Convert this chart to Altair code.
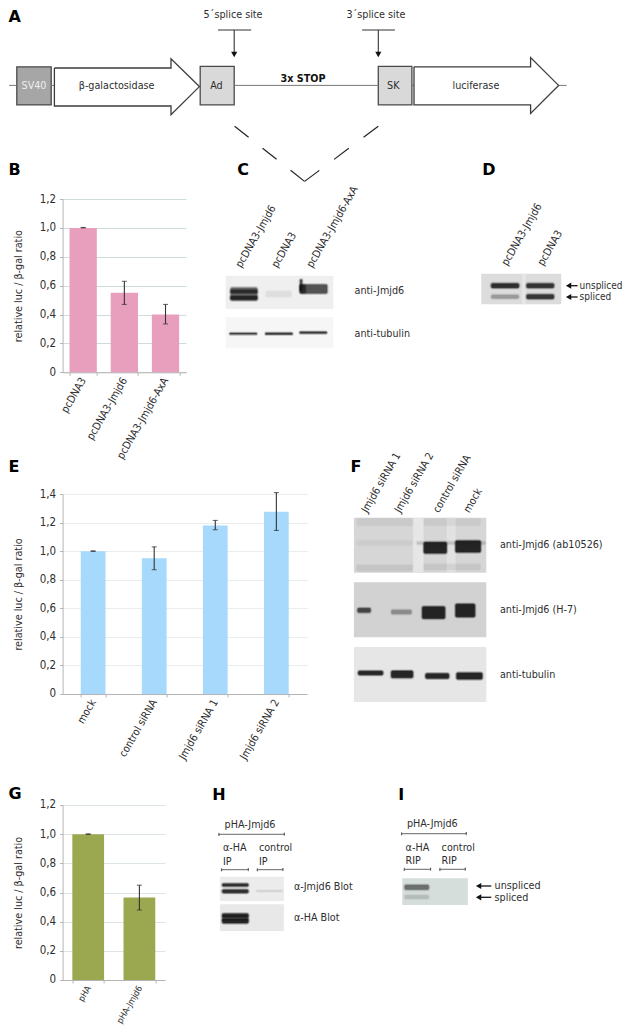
import altair as alt
import pandas as pd

# ---------- bar chart values ----------
B_CATS = ["pcDNA3", "pcDNA3-Jmjd6", "pcDNA3-Jmjd6-AxA"]
B_VALS = [1.0, 0.55, 0.40]
B_LOW = [1.0, 0.47, 0.335]
B_HIGH = [1.003, 0.63, 0.47]

E_CATS = ["mock", "control siRNA", "Jmjd6 siRNA 1", "Jmjd6 siRNA 2"]
E_VALS = [1.0, 0.95, 1.18, 1.275]
E_LOW = [0.998, 0.87, 1.15, 1.145]
E_HIGH = [1.002, 1.03, 1.215, 1.41]

G_CATS = ["pHA", "pHA-Jmjd6"]
G_VALS = [1.0, 0.565]
G_LOW = [0.998, 0.48]
G_HIGH = [1.002, 0.65]

FONT = "DejaVu Sans Condensed, Noto Sans, sans-serif"
TXT = "#2e2e2e"
FS = 10.7
YTITLE = "relative luc / β-gal ratio"

# ---------- schematic tables (page pixels) ----------
LETTERS = [("A", 8, 22), ("B", 8, 175), ("C", 236.7, 175), ("D", 481.7, 175),
           ("E", 8, 471.7), ("F", 350, 471.7), ("G", 8, 799), ("H", 211.7, 800), ("I", 397.7, 800)]

LABELS_LEFT = [
    ("anti-Jmjd6", 354, 290.7), ("anti-tubulin", 354, 333.7),
    ("anti-Jmjd6 (ab10526)", 499.3, 545.3), ("anti-Jmjd6 (H-7)", 499.3, 610.3), ("anti-tubulin", 499.3, 675),
    ("pHA-Jmjd6", 224, 825), ("α-HA", 222.3, 848.3), ("IP", 222.3, 861.7),
    ("control", 258.3, 848.3), ("IP", 258.3, 861.7),
    ("α-Jmjd6 Blot", 293.3, 886.7), ("α-HA Blot", 293.3, 918.3),
    ("pHA-Jmjd6", 406.3, 824), ("α-HA", 405, 848.3), ("RIP", 405, 860.7),
    ("control", 441, 848.3), ("RIP", 441, 860.7),
    ("unspliced", 494, 886), ("spliced", 494, 897.8),
]
LABELS_D = [("unspliced", 579, 285.5), ("spliced", 579, 297)]
LABELS_CENTER = [
    ("5´splice site", 232.4, 15.4), ("3´splice site", 375.3, 15.4),
    ("β-galactosidase", 116, 85.5), ("Ad", 215.8, 85.5), ("SK", 392.7, 85.5), ("luciferase", 475.3, 85.5),
]
SV40 = [("SV40", 33.4, 85.5)]
STOP = [("3x STOP", 302.4, 79)]
LABELS_ROT = [
    ("pcDNA3-Jmjd6", 238, 267), ("pcDNA3", 274, 267), ("pcDNA3-Jmjd6-AxA", 309, 267),
    ("pcDNA3-Jmjd6", 504, 265), ("pcDNA3", 540, 265),
    ("Jmjd6 siRNA 1", 364, 512), ("Jmjd6 siRNA 2", 397, 512), ("control siRNA", 435.5, 512), ("mock", 466, 512),
]

# x1, x2, y1, y2, fill, stroke
BOXES = [
    (16.2, 50.6, 66.8, 104.9, "#a6a6a6", "#4a4a4a"),
    (199.6, 233.6, 66.4, 104.9, "#d9d9d9", "#4a4a4a"),
    (377.7, 411.3, 66.4, 104.9, "#d9d9d9", "#4a4a4a"),
]
# blot backgrounds: x1, x2, y1, y2, fill
BLOTS = [
    (225, 332.7, 275.7, 309, "#efefef"), (225, 332.7, 317.3, 348.3, "#f6f6f6"),
    (480.7, 560.7, 273.7, 304.3, "#dcdcdc"), (521.5, 525, 273.7, 304.3, "#e6e6e6"),
    (353.3, 485.7, 517.7, 572.7, "#d6d6d6"), (412.5, 423, 517.7, 572.7, "#e6e6e6"), (446, 455, 517.7, 572.7, "#e2e2e2"),
    (353.3, 485.7, 582.3, 637.3, "#d2d2d2"), (353.3, 485.7, 647, 702, "#e6e6e6"),
    (219.3, 283.3, 876.7, 901, "#ececec"), (219.3, 283.3, 904.3, 931, "#e8e8e8"),
    (401.7, 467.3, 878.3, 905, "#d6dedc"),
]
# gel bands: x1, x2, y centre, height, darkness
BANDS = [
    (230, 256.7, 294, 13, 0.45), (230, 256.7, 291.5, 3.5, 0.6), (230, 256.7, 297.8, 3.5, 0.75),
    (299.3, 326.7, 289, 9, 0.6), (299.3, 305, 289, 8, 0.5),
    (299.5, 301.5, 285, 11, 0.7), (265, 291, 294, 6, 0.04),
    (229.3, 256, 333.7, 1.2, 0.85), (265, 291.7, 333.7, 1.5, 0.9), (299.3, 326, 332.6, 1.5, 0.9),
    (490.7, 518.3, 285.7, 4.5, 0.85), (526, 553.3, 285.7, 4.5, 0.8),
    (490.7, 518.3, 296.7, 4, 0.22), (526, 553.3, 296.7, 4.5, 0.8),
    (356, 412, 522, 8, 0.03), (356, 412, 568, 6, 0.05), (356, 412, 543, 5, 0.025),
    (423, 480, 567, 6, 0.04), (423, 480, 522, 7, 0.03),
    (423.3, 446, 547.8, 11, 0.97), (455, 480, 546.5, 11.5, 0.97), (416, 485, 543, 3, 0.1),
    (357, 370, 610.3, 4.5, 0.65), (390.7, 411, 612, 4.5, 0.25),
    (421.7, 444.3, 612.6, 12, 0.98), (455, 474.3, 610.5, 13, 0.98),
    (357.7, 382.3, 673, 4, 0.95), (390.7, 412.3, 674.3, 7, 0.97),
    (425, 448.3, 676, 5, 0.95), (456, 481.7, 676, 6.5, 0.97),
    (221.7, 247.7, 885, 2.8, 0.85), (221.7, 247.7, 891.3, 3.4, 0.85), (256, 282, 891, 1.5, 0.08),
    (221.7, 247.7, 915.5, 3.8, 0.9), (221.7, 247.7, 921, 4.5, 0.95), (221.7, 247.7, 918, 5, 0.4),
    (404, 428.3, 887.3, 5, 0.42), (404, 428.3, 897, 4, 0.1),
]
# polylines: id, width, colour, points
LINES = [
    ("back1", 1.0, "#777777", [(8.5, 85.4), (16, 85.4)]),
    ("back2", 1.0, "#777777", [(50.6, 85.4), (54, 85.4)]),
    ("back3", 1.0, "#777777", [(233.6, 85.4), (377.7, 85.4)]),
    ("back4", 1.0, "#777777", [(411.3, 85.4), (413.4, 85.4)]),
    ("back5", 1.0, "#777777", [(558, 85.4), (566, 85.4)]),
    ("gal", 1.3, "#3c3c3c", [(53.8, 68), (170.4, 68), (170.4, 58.7), (198.8, 86.6), (170.4, 114.6), (170.4, 106), (53.8, 106), (53.8, 68)]),
    ("luc", 1.3, "#3c3c3c", [(413.4, 66.8), (530, 66.8), (530, 57.5), (558, 85.4), (530, 113.4), (530, 104.9), (413.4, 104.9), (413.4, 66.8)]),
    ("t5h", 1.1, "#333333", [(217.4, 30), (250.6, 30)]),
    ("t5v", 1.1, "#333333", [(233.6, 30), (233.6, 54)]),
    ("t3h", 1.1, "#333333", [(361.5, 30), (394.3, 30)]),
    ("t3v", 1.1, "#333333", [(377.7, 30), (377.7, 54)]),
    ("d1", 1.3, "#111111", [(568, 285.7), (577, 285.7)]),
    ("d2", 1.3, "#111111", [(568, 297), (577, 297)]),
    ("i1", 1.3, "#111111", [(478, 886), (490.7, 886)]),
    ("i2", 1.3, "#111111", [(478, 897.3), (490.7, 897.3)]),
]
for name, a, b, y in [("h1", 218.3, 283.7, 834.3), ("h2", 221, 247.7, 869.7), ("h3", 256.7, 282.3, 869.7),
                      ("i3", 401, 465.7, 833.7), ("i4", 403.7, 430, 869.3), ("i5", 439.3, 464.7, 869.3)]:
    LINES.append((name, 0.9, "#555555", [(a, y - 1.5), (a, y + 1.5), (a, y), (b, y), (b, y - 1.5), (b, y + 1.5)]))

DASHED_L = [(234, 126.3), (304, 181.4)]
DASHED_R = [(377.7, 126.3), (304, 181.4)]
HEADS = [
    (233.6, 54.5, "triangle-down"), (377.7, 54.5, "triangle-down"),
    (568, 285.7, "triangle-left"), (568, 297, "triangle-left"),
    (478, 886, "triangle-left"), (478, 897.3, "triangle-left"),
]

# ---------- canvas view ----------
CANVAS_W, CANVAS_H = 1, 191
X = alt.X("x:Q", scale=alt.Scale(domain=[8, 8 + CANVAS_W], nice=False, zero=False), axis=None)
Y = alt.Y("y:Q", scale=alt.Scale(domain=[8 + CANVAS_H, 8], nice=False, zero=False), axis=None)
X2, Y2 = alt.X2("x2:Q"), alt.Y2("y2:Q")


def text_layer(rows, **mark):
    df = pd.DataFrame(rows, columns=["t", "x", "y"])
    return alt.Chart(df).mark_text(font=FONT, **mark).encode(x=X, y=Y, text="t:N")


blot_df = pd.DataFrame(BLOTS, columns=["x", "x2", "y", "y2", "fill"])
box_df = pd.DataFrame(BOXES, columns=["x", "x2", "y", "y2", "fill", "line"])
layers = [
    alt.Chart(blot_df).mark_rect().encode(x=X, x2=X2, y=Y, y2=Y2, color=alt.Color("fill:N", scale=None)),
]
# each band is built from nested soft rectangles so its edges fade as on a gel
for extra, share, radius in [(1.6, 0.16, 3), (0.9, 0.3, 2.5), (0.3, 0.5, 2), (-0.3, 0.7, 1.5)]:
    rows = [(a - extra, b + extra, y - max(h / 2 + extra, 0.4), y + max(h / 2 + extra, 0.4), d * share)
            for a, b, y, h, d in BANDS]
    df = pd.DataFrame(rows, columns=["x", "x2", "y", "y2", "o"])
    layers.append(alt.Chart(df).mark_rect(color="#111111", cornerRadius=radius).encode(
        x=X, x2=X2, y=Y, y2=Y2, opacity=alt.Opacity("o:Q", scale=None)))

layers.append(alt.Chart(box_df).mark_rect(strokeWidth=1.3).encode(
    x=X, x2=X2, y=Y, y2=Y2,
    color=alt.Color("fill:N", scale=None), stroke=alt.Stroke("line:N", scale=None)))

line_rows = []
for name, w, col, pts in LINES:
    for i, (px, py) in enumerate(pts):
        line_rows.append((name, w, col, i, px, py))
line_df = pd.DataFrame(line_rows, columns=["id", "w", "c", "i", "x", "y"])
layers.append(alt.Chart(line_df).mark_line().encode(
    x=X, y=Y, detail="id:N", order="i:Q",
    color=alt.Color("c:N", scale=None), strokeWidth=alt.StrokeWidth("w:Q", scale=None)))

for pts, dash in [(DASHED_L, 17.8), (DASHED_R, 18.4)]:
    dash_df = pd.DataFrame([(i, px, py) for i, (px, py) in enumerate(pts)], columns=["i", "x", "y"])
    layers.append(alt.Chart(dash_df).mark_line(color="#222222", strokeWidth=1.2, strokeDash=[dash, dash]).encode(
        x=X, y=Y, order="i:Q"))

head_df = pd.DataFrame(HEADS, columns=["x", "y", "s"])
layers.append(alt.Chart(head_df).mark_point(filled=True, size=38, color="#111111", opacity=1).encode(
    x=X, y=Y, shape=alt.Shape("s:N", scale=None)))

layers += [
    text_layer(LABELS_LEFT, align="left", baseline="middle", fontSize=FS, color=TXT),
    text_layer(LABELS_D, align="left", baseline="middle", fontSize=10, color=TXT),
    text_layer(LABELS_CENTER, align="center", baseline="middle", fontSize=FS, color=TXT),
    text_layer(SV40, align="center", baseline="middle", fontSize=FS, color="#eeeeee"),
    text_layer(STOP, align="center", baseline="middle", fontSize=FS, fontWeight="bold", color="#111111"),
    text_layer(LABELS_ROT, align="left", baseline="middle", fontSize=FS, angle=300, color=TXT),
]
letter_df = pd.DataFrame(LETTERS, columns=["t", "x", "y"])
layers.append(alt.Chart(letter_df).mark_text(
    font="DejaVu Sans", fontWeight="bold", fontSize=16, align="left", baseline="alphabetic", color="#000000"
).encode(x=X, y=Y, text="t:N"))

canvas = alt.layer(*layers).properties(width=CANVAS_W, height=CANVAS_H)


# ---------- bar panels ----------
def bar_panel(cats, vals, low, high, color, ymax, width, height, pad, grid, title_pad, xfont=FS):
    df = pd.DataFrame({"c": cats, "v": vals, "lo": low, "hi": high})
    ticks = [round(i * 0.2, 1) for i in range(int(round(ymax / 0.2)) + 1)]
    xs = alt.Scale(domain=cats, paddingInner=pad, paddingOuter=pad / 2)
    ys = alt.Scale(domain=[0, ymax], nice=False)
    x_axis = alt.Axis(title=None, labelAngle=300, labelAlign="right", labelBaseline="middle", labelFont=FONT,
                      labelFontSize=xfont, labelColor=TXT, domainColor="#b5b5b5", tickColor="#b5b5b5", tickSize=3,
                      tickBand="extent", labelPadding=3, grid=False, labelOverlap=False)
    y_axis = alt.Axis(title=YTITLE, values=ticks, grid=True, gridColor=grid, domainColor="#b5b5b5",
                      tickColor="#b5b5b5", tickSize=3, labelFont=FONT, labelFontSize=11.5, labelColor=TXT,
                      labelPadding=4, titleFont=FONT, titleFontSize=FS, titleFontWeight="normal", titleColor=TXT,
                      titlePadding=title_pad,
                      labelExpr="datum.value === 0 ? '0' : replace(format(datum.value, '.1f'), '.', ',')")
    ex = alt.X("c:N", scale=xs, axis=x_axis, sort=cats)

    def ey(field):
        return alt.Y(field, scale=ys, axis=y_axis)

    bars = alt.Chart(df).mark_bar(color=color).encode(x=ex, y=ey("v:Q"))
    stem = alt.Chart(df).mark_rule(color="#333333", strokeWidth=1.1).encode(x=ex, y=ey("lo:Q"), y2="hi:Q")
    cap1 = alt.Chart(df).mark_tick(color="#333333", size=5, thickness=1.1).encode(x=ex, y=ey("lo:Q"))
    cap2 = alt.Chart(df).mark_tick(color="#333333", size=5, thickness=1.1).encode(x=ex, y=ey("hi:Q"))
    return alt.layer(bars, stem, cap1, cap2).properties(width=width, height=height)


def spacer(w, h):
    return alt.Chart(pd.DataFrame({"a": [0]})).mark_point(opacity=0).encode(
        x=alt.value(0), y=alt.value(0)).properties(width=w, height=h)


panel_b = bar_panel(B_CATS, B_VALS, B_LOW, B_HIGH, "#e89fbe", 1.2, 123.5, 173.3, 0.337, "#cfdcdc", 16)
panel_e = bar_panel(E_CATS, E_VALS, E_LOW, E_HIGH, "#a6d9fc", 1.4, 244.3, 200, 0.595, "#e8eeee", 16)
panel_g = bar_panel(G_CATS, G_VALS, G_LOW, G_HIGH, "#9ca84f", 1.2, 102.4, 175, 0.38, "#dce4e4", 16, xfont=8.8)

cells = [
    canvas, spacer(1, 191),
    spacer(52.5, 173.3), panel_b,
    spacer(1, 120.4), spacer(1, 120.4),
    spacer(53.7, 200), panel_e,
    spacer(1, 110.6), spacer(1, 110.6),
    spacer(51.3, 175), panel_g,
]

chart = alt.concat(*cells, columns=2, spacing=0, bounds="flush", align="none").properties(
    padding={"top": -3, "left": -2.4, "right": 0, "bottom": 0}, background="white"
).configure_view(stroke=None)

chart.save("out.html", embed_options={"renderer": "svg", "actions": False})
